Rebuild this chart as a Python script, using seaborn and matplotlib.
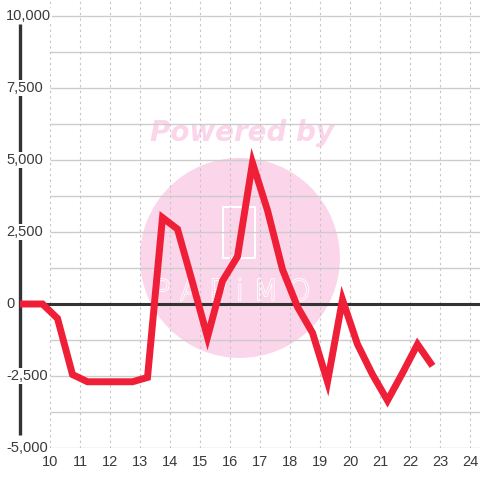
import matplotlib
matplotlib.use("Agg")
import matplotlib.pyplot as plt
import matplotlib.patches as mpatches
import matplotlib.patheffects as pe
import seaborn as sns
import pandas as pd

# data (hour of day -> value)
hours = [9.0, 9.75, 10.25, 10.75, 11.25, 11.75, 12.25, 12.75, 13.25, 13.75,
         14.25, 14.75, 15.25, 15.75, 16.25, 16.75, 17.25, 17.75, 18.25, 18.75,
         19.25, 19.75, 20.25, 20.75, 21.25, 21.75, 22.25, 22.75]
values = [0, 0, -500, -2450, -2700, -2700, -2700, -2700, -2550, 3000,
          2600, 750, -1150, 800, 1650, 4900, 3250, 1200, -100, -1000,
          -2700, 150, -1400, -2450, -3350, -2400, -1400, -2150]

x_ticks = list(range(10, 25))
y_major = [-5000, -2500, 0, 2500, 5000, 7500, 10000]
y_labels = ["-5,000", "-2,500", "0", "2,500", "5,000", "7,500", "10,000"]
y_minor = [-3750, -1250, 1250, 3750, 6250, 8750]

df = pd.DataFrame({"hour": hours, "value": values})

sns.set_theme(style="white")
plt.rcParams['font.family'] = ['Liberation Sans', 'DejaVu Sans']

fig = plt.figure(figsize=(4.8, 4.8), dpi=100)
ax = fig.add_axes([20 / 480, 32 / 480, 460 / 480, 448 / 480])
ax.set_facecolor("white")
for s in ax.spines.values():
    s.set_visible(False)

xmin, xmax = 9.0, 9.0 + 460 / 30
ymin, ymax = -5000, 10000 + 16 / 0.0288
ax.set_xlim(xmin, xmax)
ax.set_ylim(ymin, ymax)

# watermark
pink = "#fbd5ea"
ax.add_patch(mpatches.Ellipse((16.33, 1600), 200 / 30, 200 / 0.0288,
                              facecolor=pink, edgecolor="none", zorder=0))
ax.text(16.4, 5940, "Powered by", family="DejaVu Sans", fontsize=20,
        fontweight="bold", fontstyle="italic", color=pink,
        ha="center", va="center", zorder=0.5)
ax.add_patch(mpatches.Rectangle((15.78, 1600), 1.05, 1770, facecolor="none",
                                edgecolor="white", lw=1.5, zorder=0.6))
ax.text(16.05, -80, "P A P i M O", family="DejaVu Sans", fontsize=21,
        fontweight="light", color=pink, ha="center", va="bottom", zorder=0.6,
        path_effects=[pe.withStroke(linewidth=1.2, foreground="white")])

# grid
ax.hlines([y for y in y_major + y_minor if y != 0], 10, xmax,
          colors="#cccccc", lw=1, zorder=1)
ax.vlines(x_ticks, ymin, ymax, colors="#c4c4c4", lw=0.8,
          linestyles=(0, (2, 3)), zorder=1)
ax.hlines(0, xmin, xmax, colors="#333333", lw=2.2, zorder=2)
ax.vlines(xmin, -4550, 9720, colors="#333333", lw=2.4, zorder=2,
          clip_on=False)

sns.lineplot(data=df, x="hour", y="value", ax=ax, color="#ee1f36",
             lw=5, zorder=3, solid_joinstyle="miter", solid_capstyle="butt")

ax.set_xticks(x_ticks)
ax.set_xticklabels([str(t) for t in x_ticks], fontsize=10.5, color="#3a3a3a")
ax.tick_params(axis="x", length=0, pad=5)
ax.set_yticks([])
ax.set_xlabel("")
ax.set_ylabel("")

for y, lab in zip(y_major, y_labels):
    ax.text(-14 / 460, y, lab, transform=ax.get_yaxis_transform(),
            ha="left", va="center", fontsize=10.5, color="#3a3a3a", zorder=4,
            bbox=dict(facecolor="white", edgecolor="none", pad=0.5),
            clip_on=False)

fig.savefig("out.png", dpi=100)
